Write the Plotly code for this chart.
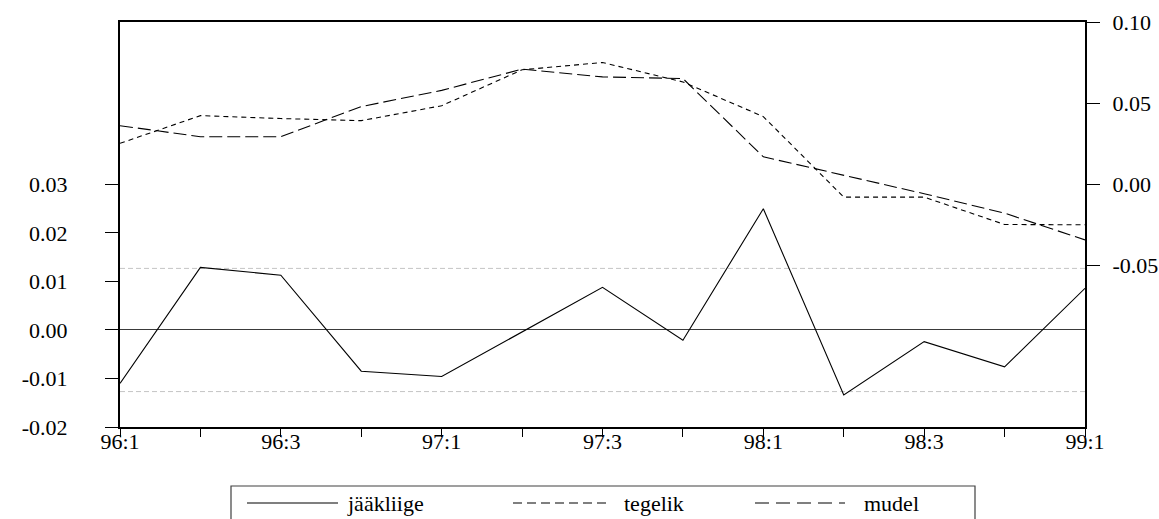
import plotly.graph_objects as go

# Quarterly observations, 1996Q1 - 1999Q1
quarters = ["96:1", "96:2", "96:3", "96:4", "97:1", "97:2", "97:3",
            "97:4", "98:1", "98:2", "98:3", "98:4", "99:1"]

# Actual series (right axis)
tegelik = [0.0251, 0.0422, 0.0404, 0.0391, 0.0483, 0.0705, 0.0750,
           0.0630, 0.0416, -0.0081, -0.0081, -0.0250, -0.0252]

# Fitted series (right axis)
mudel = [0.0360, 0.0292, 0.0292, 0.0478, 0.0578, 0.0709, 0.0661,
         0.0651, 0.0168, 0.0054, -0.0060, -0.0180, -0.0345]

# Residuals (left axis)
jaakliige = [-0.0110, 0.0129, 0.0113, -0.0085, -0.0096, -0.0004, 0.0088,
             -0.0021, 0.0250, -0.0134, -0.0024, -0.0076, 0.0086]

# Standard error band drawn around zero residual
resid_se = 0.0127

left_ticks = [-0.02, -0.01, 0.00, 0.01, 0.02, 0.03]
right_ticks = [-0.05, 0.00, 0.05, 0.10]
x_labels = [q if i % 2 == 0 else "" for i, q in enumerate(quarters)]

FONT = "Times New Roman, Liberation Serif, Times, serif"
INK = "#000000"

fig = go.Figure()

fig.add_trace(go.Scatter(
    x=quarters, y=tegelik, yaxis="y2", mode="lines", name="tegelik",
    line=dict(color=INK, width=1.1, dash="5px,4px"), showlegend=False,
))
fig.add_trace(go.Scatter(
    x=quarters, y=mudel, yaxis="y2", mode="lines", name="mudel",
    line=dict(color=INK, width=1.1, dash="13px,5px"), showlegend=False,
))
fig.add_trace(go.Scatter(
    x=quarters, y=jaakliige, yaxis="y", mode="lines", name="jääkliige",
    line=dict(color=INK, width=1.1), showlegend=False,
))

# +/- standard error reference lines
for v in (resid_se, -resid_se):
    fig.add_shape(type="line", xref="paper", yref="y", x0=0, x1=1, y0=v, y1=v,
                  line=dict(color="#c4c4c4", width=1, dash="5px,3px"), layer="below")

# Legend box, drawn below the plot area
L, R, T, B = 120, 1085, 22, 427


def px(xp):
    return (xp - L) / (R - L)


def py(yp):
    return (B - yp) / (B - T)


fig.add_shape(type="rect", xref="paper", yref="paper",
              x0=px(231), x1=px(975), y0=py(540), y1=py(486),
              line=dict(color="#404040", width=1.2), fillcolor="rgba(0,0,0,0)")

legend_items = [
    ("jääkliige", None, 247, 338, 345),
    ("tegelik", "9px,5px", 513, 608, 622),
    ("mudel", "14px,7px", 755, 845, 862),
]
ly = 503
for label, dash, lx0, lx1, tx in legend_items:
    line = dict(color=INK, width=1.1)
    if dash:
        line["dash"] = dash
    fig.add_shape(type="line", xref="paper", yref="paper",
                  x0=px(lx0), x1=px(lx1), y0=py(ly), y1=py(ly), line=line)
    fig.add_annotation(xref="paper", yref="paper", x=px(tx), y=py(ly),
                       text=label, showarrow=False, xanchor="left", yanchor="middle",
                       font=dict(family=FONT, size=22, color=INK))

fig.update_layout(
    width=1159, height=519,
    margin=dict(l=L, r=1159 - R, t=T, b=519 - B),
    paper_bgcolor="white", plot_bgcolor="white",
    font=dict(family=FONT, size=22, color=INK),
    showlegend=False,
    xaxis=dict(
        type="category", range=[0, len(quarters) - 1],
        tickmode="array", tickvals=quarters, ticktext=x_labels,
        ticks="outside", ticklen=8, tickwidth=1, tickcolor=INK,
        ticklabelstandoff=-14, automargin=False,
        showline=True, linewidth=2, linecolor=INK, mirror=True,
        showgrid=False, zeroline=False,
    ),
    yaxis=dict(
        range=[-0.02, 0.0635],
        tickmode="array", tickvals=left_ticks,
        ticktext=[f"{v:.2f}" for v in left_ticks],
        ticks="outside", ticklen=13, tickwidth=1, tickcolor=INK,
        ticklabelstandoff=33, automargin=False,
        showline=True, linewidth=2, linecolor=INK,
        showgrid=False, zeroline=True, zerolinecolor="#3a3a3a", zerolinewidth=1,
    ),
    yaxis2=dict(
        range=[-0.15, 0.10], overlaying="y", side="right",
        tickmode="array", tickvals=right_ticks,
        ticktext=[f"{v:.2f}" for v in right_ticks],
        ticks="outside", ticklen=13, tickwidth=1, tickcolor=INK,
        ticklabelstandoff=8, automargin=False,
        showline=True, linewidth=2, linecolor=INK,
        showgrid=False, zeroline=False,
    ),
)

fig.write_html("out.html")
